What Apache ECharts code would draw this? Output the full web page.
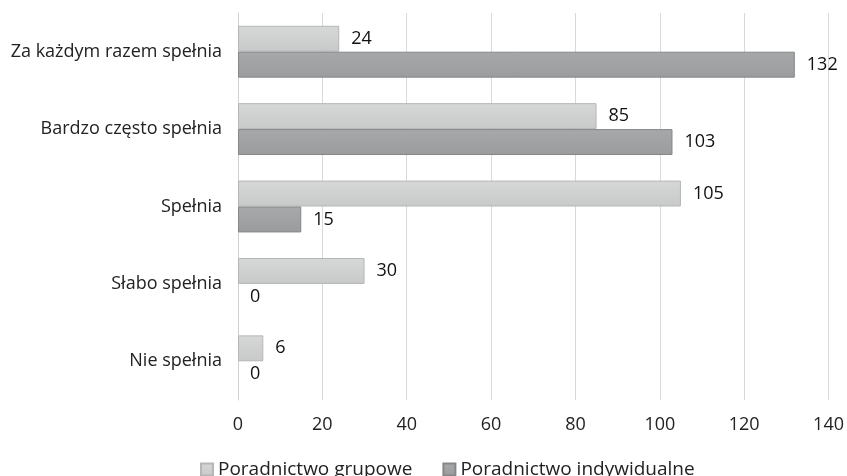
<!DOCTYPE html>
<html>
<head>
<meta charset="utf-8">
<script src="https://cdn.jsdelivr.net/npm/echarts@6/dist/echarts.min.js"></script>
<style>
  html, body { margin: 0; padding: 0; background: #fff; }
  #main { width: 847px; height: 476px; }
</style>
</head>
<body>
<div id="main"></div>
<script>
const categories = ['Za każdym razem spełnia', 'Bardzo często spełnia', 'Spełnia', 'Słabo spełnia', 'Nie spełnia'];
const grupowe = [24, 85, 105, 30, 6];
const indywidualne = [132, 103, 15, 0, 0];
const xTicks = [0, 20, 40, 60, 80, 100, 120, 140];

const chart = echarts.init(document.getElementById('main'));
const font = '"Open Sans", "Noto Sans", sans-serif';

// zero-length bars should not leave a border stub
const withoutEmptyBorder = (arr) =>
  arr.map((v) => (v === 0 ? { value: v, itemStyle: { borderWidth: 0 } } : v));

const option = {
  animation: false,
  textStyle: { fontFamily: font },
  grid: { left: 238, right: 18, top: 13, bottom: 76 },
  legend: {
    top: 455,
    left: 195,
    icon: 'rect',
    itemWidth: 12,
    itemHeight: 12,
    itemGap: 30,
    textStyle: { fontSize: 19, color: '#222', fontFamily: font },
    data: ['Poradnictwo grupowe', 'Poradnictwo indywidualne']
  },
  xAxis: {
    type: 'value',
    min: xTicks[0],
    max: xTicks[xTicks.length - 1],
    interval: 20,
    axisLine: { show: false },
    axisTick: { show: false },
    axisLabel: { fontSize: 18, color: '#222', margin: 16 },
    splitLine: { lineStyle: { color: '#d9d9d9', width: 1 } }
  },
  yAxis: {
    type: 'category',
    inverse: true,
    data: categories,
    axisLine: { lineStyle: { color: '#d0d0d0' } },
    axisTick: { show: false },
    axisLabel: { fontSize: 18, color: '#222', margin: 16 }
  },
  series: [
    {
      name: 'Poradnictwo grupowe',
      type: 'bar',
      data: withoutEmptyBorder(grupowe),
      barGap: '0%',
      barCategoryGap: '33%',
      itemStyle: {
        color: new echarts.graphic.LinearGradient(0, 0, 0, 1, [
          { offset: 0, color: '#d6d7d7' },
          { offset: 1, color: '#c8c9c9' }
        ]),
        borderColor: '#b5b6b6',
        borderWidth: 1
      },
      label: { show: true, position: 'right', distance: 12, fontSize: 18, color: '#111' }
    },
    {
      name: 'Poradnictwo indywidualne',
      type: 'bar',
      data: withoutEmptyBorder(indywidualne),
      itemStyle: {
        color: new echarts.graphic.LinearGradient(0, 0, 0, 1, [
          { offset: 0, color: '#a6a8a9' },
          { offset: 1, color: '#9a9c9d' }
        ]),
        borderColor: '#858788',
        borderWidth: 1
      },
      label: { show: true, position: 'right', distance: 12, fontSize: 18, color: '#111' }
    }
  ]
};

chart.setOption(option);
</script>
</body>
</html>
